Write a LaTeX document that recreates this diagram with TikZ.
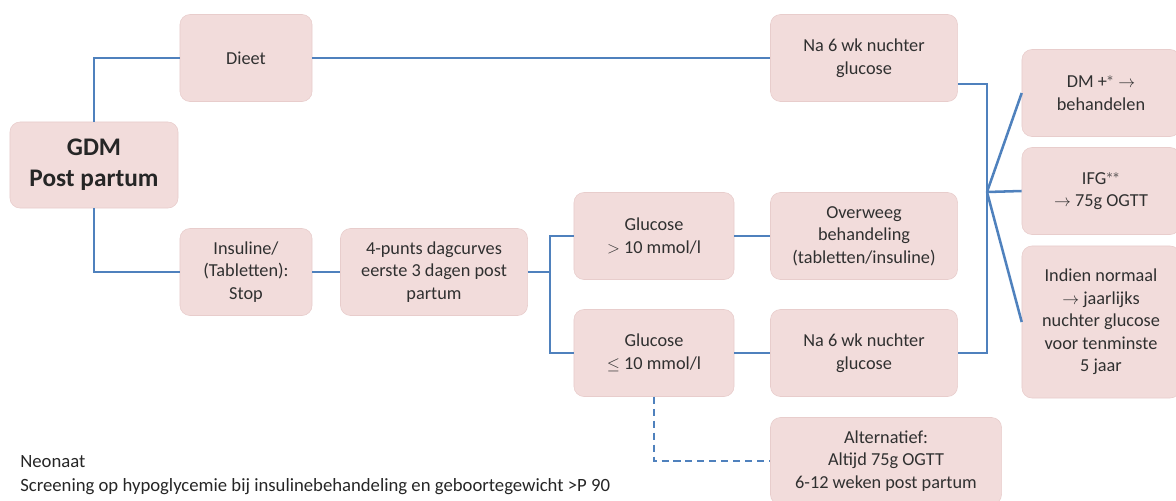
\documentclass[tikz,border=0pt]{standalone}
\usepackage{fontspec}
\setmainfont{Carlito}
\usepackage{tikz}
\usetikzlibrary{positioning}
\definecolor{boxfill}{HTML}{F2DCDB}
\definecolor{boxline}{HTML}{E8CDCC}
\definecolor{linkblue}{HTML}{4F81BD}
\definecolor{boxtext}{HTML}{303030}
\tikzset{
  stap/.style={draw=boxline, fill=boxfill, rounded corners=0.25cm, align=center,
    text=boxtext, font=\fontsize{13}{16}\selectfont, minimum height=2.175cm, inner sep=2pt},
  link/.style={draw=linkblue, line width=1.8pt},
}

\begin{document}
\begin{tikzpicture}[x=0.025cm,y=-0.025cm]
        \useasboundingbox (0,0) rectangle (1176,500);
        \clip (0,0) rectangle (1176,500);
        % boxes
        \node[stap, minimum width=4.2cm, minimum height=2.15cm, font=\fontsize{18}{22}\selectfont\bfseries, text=black!85] (gdm) at (94,165) {GDM\\Post partum};
        \node[stap, minimum width=3.3cm] (dieet) at (246,58) {Dieet};
        \node[stap, minimum width=3.3cm] (insuline) at (246,272) {Insuline/\\(Tabletten):\\Stop};
        \node[stap, minimum width=4.675cm] (dagcurves) at (434,272) {4-punts dagcurves\\eerste 3 dagen post\\partum};
        \node[stap, minimum width=4cm] (glhoog) at (654,236) {Glucose\\$>$ 10 mmol/l};
        \node[stap, minimum width=4cm] (gllaag) at (654,353) {Glucose\\$\leq$ 10 mmol/l};
        \node[stap, minimum width=4.675cm] (nuchtera) at (864,58) {Na 6 wk nuchter\\glucose};
        \node[stap, minimum width=4.675cm] (overweeg) at (864,236) {Overweeg\\behandeling\\(tabletten/insuline)};
        \node[stap, minimum width=4.675cm] (nuchterb) at (864,353) {Na 6 wk nuchter\\glucose};
        \node[stap, minimum width=5.775cm] (alternatief) at (886,461) {Alternatief:\\Altijd 75g OGTT\\6-12 weken post partum};
        \node[stap, minimum width=3.95cm] (dm) at (1101,93) {DM +$^{*}$ $\rightarrow$\\behandelen};
        \node[stap, minimum width=3.95cm] (ifg) at (1101,191) {IFG$^{**}$\\$\rightarrow$ 75g OGTT};
        \node[stap, minimum width=3.95cm, minimum height=3.8cm] (normaal) at (1101,322) {Indien normaal\\$\rightarrow$ jaarlijks\\nuchter glucose\\voor tenminste\\5 jaar};
        % connectors
        \coordinate (splitA) at (550,272);
        \coordinate (fan) at (987,192);
        \draw[link] (gdm.north) |- (dieet.west);
        \draw[link] (gdm.south) |- (insuline.west);
        \draw[link] (dieet.east) -- (nuchtera.west);
        \draw[link] (insuline.east) -- (dagcurves.west);
        \draw[link] (dagcurves.east) -- (splitA) |- (glhoog.west);
        \draw[link] (splitA) |- (gllaag.west);
        \draw[link] (glhoog.east) -- (overweeg.west);
        \draw[link] (gllaag.east) -- (nuchterb.west);
        \draw[link] ([yshift=-0.65cm]nuchtera.east) -| (fan |- nuchterb.east) -- (nuchterb.east);
        \draw[link] (fan) -- (dm.west);
        \draw[link] (fan) -- (ifg.west);
        \draw[link] (fan) -- (normaal.west);
        \draw[link, dash pattern=on 5pt off 3.5pt] (gllaag.south) |- (alternatief.west);
        % neonaat
        \node[anchor=base west, inner sep=0pt, font=\fontsize{13.3}{16}\selectfont, text=black!85] (neonaat) at (20,467) {Neonaat};
        \node[anchor=base west, inner sep=0pt, font=\fontsize{13.3}{16}\selectfont, text=black!85] (screening) at (20,491) {Screening op hypoglycemie bij insulinebehandeling en geboortegewicht >P 90};
    \end{tikzpicture}
\end{document}
